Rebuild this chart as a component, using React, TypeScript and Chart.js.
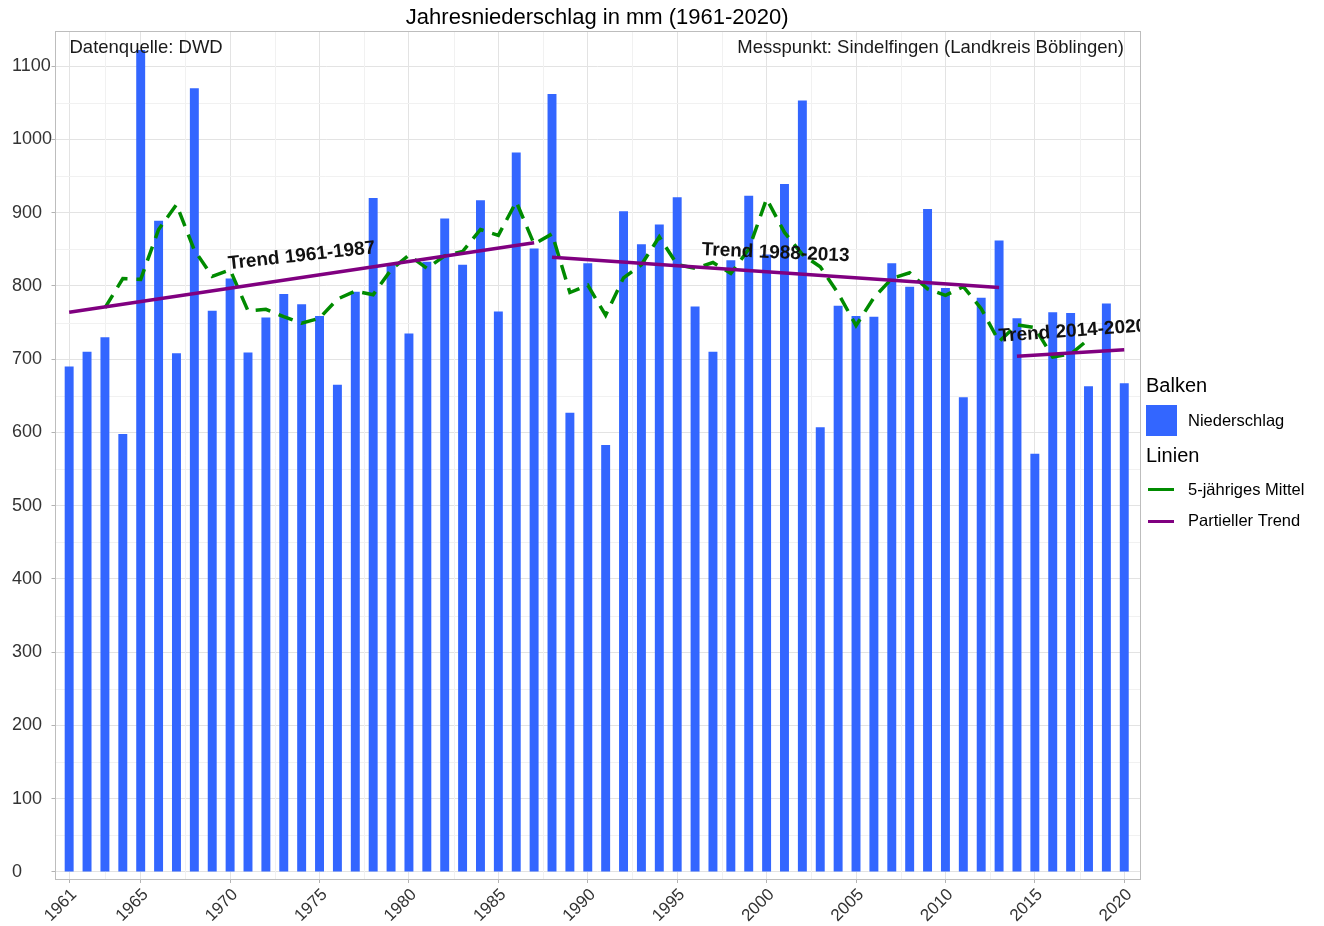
import React, { useEffect, useRef } from "react";
import { Chart, registerables } from "chart.js";

Chart.register(...registerables);

// ---------- data ----------
const years = [
  1961, 1962, 1963, 1964, 1965, 1966, 1967, 1968, 1969, 1970,
  1971, 1972, 1973, 1974, 1975, 1976, 1977, 1978, 1979, 1980,
  1981, 1982, 1983, 1984, 1985, 1986, 1987, 1988, 1989, 1990,
  1991, 1992, 1993, 1994, 1995, 1996, 1997, 1998, 1999, 2000,
  2001, 2002, 2003, 2004, 2005, 2006, 2007, 2008, 2009, 2010,
  2011, 2012, 2013, 2014, 2015, 2016, 2017, 2018, 2019, 2020,
];

const precipitation = [
  690, 710, 730, 598, 1122, 889, 708, 1070, 766, 810,
  709, 757, 789, 775, 759, 665, 792, 920, 829, 735,
  833, 892, 829, 917, 765, 982, 851, 1062, 627, 831,
  583, 902, 857, 884, 921, 772, 710, 835, 923, 843,
  939, 1053, 607, 773, 759, 758, 831, 799, 905, 797,
  648, 784, 862, 756, 571, 764, 763, 663, 776, 667,
];

const meanYears = [
  1963, 1964, 1965, 1966, 1967, 1968, 1969, 1970, 1971, 1972,
  1973, 1974, 1975, 1976, 1977, 1978, 1979, 1980, 1981, 1982,
  1983, 1984, 1985, 1986, 1987, 1988, 1989, 1990, 1991, 1992,
  1993, 1994, 1995, 1996, 1997, 1998, 1999, 2000, 2001, 2002,
  2003, 2004, 2005, 2006, 2007, 2008, 2009, 2010, 2011, 2012,
  2013, 2014, 2015, 2016, 2017, 2018,
];

const fiveYearMean = [
  770, 810, 809, 877, 911, 849, 813, 822, 766, 768,
  758, 749, 756, 782, 793, 788, 822, 842, 824, 841,
  847, 877, 869, 915, 857, 871, 791, 801, 760, 811,
  829, 867, 829, 824, 832, 817, 850, 919, 873, 843,
  826, 790, 746, 784, 810, 818, 796, 787, 799, 769,
  724, 747, 743, 703, 707, 727,
];

const trendStartYears = [1961, 1988, 2014];
const trendEndYears = [1987, 2013, 2020];
const trendStartValues = [764, 839, 704];
const trendEndValues = [859, 798, 713];
const trendLabels = ["Trend 1961-1987", "Trend 1988-2013", "Trend 2014-2020"];
const trendLabelYears = [1974.0, 2000.5, 2017.1];
const trendLabelValues = [841, 845, 738];
const trendLabelAngles = [-6.3, 2.4, -4.0];

const xTickYears = [1961, 1965, 1970, 1975, 1980, 1985, 1990, 1995, 2000, 2005, 2010, 2015, 2020];
const yTickValues = [0, 100, 200, 300, 400, 500, 600, 700, 800, 900, 1000, 1100];

const titleText = "Jahresniederschlag in mm (1961-2020)";
const sourceText = "Datenquelle: DWD";
const stationText = "Messpunkt: Sindelfingen (Landkreis Böblingen)";
const legendBarTitle = "Balken";
const legendBarLabel = "Niederschlag";
const legendLineTitle = "Linien";
const legendMeanLabel = "5-jähriges Mittel";
const legendTrendLabel = "Partieller Trend";

// ---------- styles ----------
const FONT = "'Liberation Sans', Arial, Helvetica, sans-serif";
const BAR_COLOR = "#3366FF";
const MEAN_COLOR = "#008B00";
const TREND_COLOR = "#800080";
const GRID_MAJOR = "#e3e3e3";
const GRID_MINOR = "#f1f1f1";
const BORDER = "#bdbdbd";
const TICK_TEXT = "#333333";

const decorPlugin = {
  id: "decor",
  beforeDatasetsDraw(chart: any) {
    const { ctx, chartArea: a, scales } = chart;
    ctx.save();
    ctx.beginPath();
    ctx.rect(a.left, a.top, a.right - a.left, a.bottom - a.top);
    ctx.clip();
    ctx.strokeStyle = GRID_MINOR;
    ctx.lineWidth = 1;
    for (let i = 0; i < xTickYears.length - 1; i++) {
      const m = (xTickYears[i] + xTickYears[i + 1]) / 2;
      const px = Math.round(scales.x.getPixelForValue(m)) + 0.5;
      ctx.beginPath();
      ctx.moveTo(px, a.top);
      ctx.lineTo(px, a.bottom);
      ctx.stroke();
    }
    for (let i = 0; i < yTickValues.length; i++) {
      const v = yTickValues[i] + 50;
      const py = Math.round(scales.y.getPixelForValue(v)) + 0.5;
      if (py < a.top) continue;
      ctx.beginPath();
      ctx.moveTo(a.left, py);
      ctx.lineTo(a.right, py);
      ctx.stroke();
    }
    ctx.restore();
  },
  afterDatasetsDraw(chart: any) {
    const { ctx, chartArea: a, scales } = chart;
    ctx.save();
    ctx.beginPath();
    ctx.rect(a.left, a.top, a.right - a.left, a.bottom - a.top);
    ctx.clip();
    ctx.font = `bold 19px ${FONT}`;
    ctx.fillStyle = "#111";
    ctx.textAlign = "center";
    ctx.textBaseline = "middle";
    for (let i = 0; i < trendLabels.length; i++) {
      const px = scales.x.getPixelForValue(trendLabelYears[i]);
      const py = scales.y.getPixelForValue(trendLabelValues[i]);
      ctx.save();
      ctx.translate(px, py);
      ctx.rotate((trendLabelAngles[i] * Math.PI) / 180);
      ctx.fillText(trendLabels[i], 0, 0);
      ctx.restore();
    }
    ctx.restore();
  },
  afterDraw(chart: any) {
    const { ctx, chartArea: a, scales } = chart;
    ctx.save();
    // panel border
    ctx.strokeStyle = BORDER;
    ctx.lineWidth = 1;
    ctx.strokeRect(Math.round(a.left) + 0.5, Math.round(a.top) + 0.5, Math.round(a.right - a.left) - 1, Math.round(a.bottom - a.top) - 1);

    // x tick labels (rotated 45°, anchored at their upper right corner)
    ctx.fillStyle = TICK_TEXT;
    ctx.font = `17px ${FONT}`;
    ctx.textAlign = "right";
    ctx.textBaseline = "top";
    for (const v of xTickYears) {
      const px = scales.x.getPixelForValue(v);
      ctx.save();
      ctx.translate(px - 1, a.bottom + 6);
      ctx.rotate(-Math.PI / 4);
      ctx.fillText(String(v), 0, 0);
      ctx.restore();
    }

    // title
    ctx.fillStyle = "#000";
    ctx.textBaseline = "middle";
    ctx.textAlign = "center";
    ctx.font = `22px ${FONT}`;
    ctx.fillText(titleText, (a.left + a.right) / 2, 18);

    // annotations
    ctx.font = `18.5px ${FONT}`;
    ctx.fillStyle = "#1a1a1a";
    ctx.textAlign = "left";
    ctx.fillText(sourceText, a.left + 15, 48);
    ctx.textAlign = "right";
    ctx.fillText(stationText, a.right - 16, 48);

    // legend
    const lx = a.right + 6;
    ctx.textAlign = "left";
    ctx.fillStyle = "#000";
    ctx.font = `20px ${FONT}`;
    ctx.fillText(legendBarTitle, lx, 386);
    ctx.fillStyle = BAR_COLOR;
    ctx.fillRect(lx, 405, 31, 31);
    ctx.fillStyle = "#000";
    ctx.font = `16.5px ${FONT}`;
    ctx.fillText(legendBarLabel, lx + 42, 421);
    ctx.font = `20px ${FONT}`;
    ctx.fillText(legendLineTitle, lx, 456);
    ctx.lineWidth = 3;
    ctx.strokeStyle = MEAN_COLOR;
    ctx.beginPath();
    ctx.moveTo(lx + 2, 489.5);
    ctx.lineTo(lx + 28, 489.5);
    ctx.stroke();
    ctx.strokeStyle = TREND_COLOR;
    ctx.beginPath();
    ctx.moveTo(lx + 2, 521.5);
    ctx.lineTo(lx + 28, 521.5);
    ctx.stroke();
    ctx.font = `16.5px ${FONT}`;
    ctx.fillText(legendMeanLabel, lx + 42, 490);
    ctx.fillText(legendTrendLabel, lx + 42, 521);
    ctx.restore();
  },
};

export default function App() {
  const ref = useRef<HTMLCanvasElement>(null);

  useEffect(() => {
    if (!ref.current) return;
    const trendSets = trendStartYears.map((sy, i) => ({
      type: "line" as const,
      label: trendLabels[i],
      data: [
        { x: sy, y: trendStartValues[i] },
        { x: trendEndYears[i], y: trendEndValues[i] },
      ],
      borderColor: TREND_COLOR,
      borderWidth: 3.5,
      pointRadius: 0,
      tension: 0,
      fill: false,
      order: 1,
    }));

    const chart = new Chart(ref.current, {
      type: "bar",
      data: {
        datasets: [
          {
            type: "bar",
            label: legendBarLabel,
            data: years.map((y, i) => ({ x: y, y: precipitation[i] })),
            backgroundColor: BAR_COLOR,
            barPercentage: 0.5,
            categoryPercentage: 1,
            order: 3,
          } as any,
          {
            type: "line",
            label: legendMeanLabel,
            data: meanYears.map((y, i) => ({ x: y, y: fiveYearMean[i] })),
            borderColor: MEAN_COLOR,
            borderWidth: 3.5,
            borderDash: [15, 9],
            pointRadius: 0,
            tension: 0,
            fill: false,
            order: 2,
          },
          ...trendSets,
        ],
      },
      options: {
        animation: false,
        responsive: false,
        devicePixelRatio: 1,
        layout: { padding: { left: 12, right: 184, top: 31, bottom: 0 } },
        plugins: {
          legend: { display: false },
          tooltip: { enabled: false },
          title: { display: false },
        },
        scales: {
          x: {
            type: "linear",
            min: 1960.18,
            max: 2020.88,
            offset: false,
            border: { display: false },
            grid: {
              offset: false,
              color: GRID_MAJOR,
              lineWidth: 1,
              drawTicks: true,
              tickLength: 3,
              tickColor: "#b3b3b3",
            },
            ticks: {
              display: false,
              autoSkip: false,
              callback: (v: any) => String(v),
            },
            afterBuildTicks: (s: any) => {
              s.ticks = xTickYears.map((v) => ({ value: v }));
            },
            afterFit: (s: any) => {
              s.height = 46;
              s.paddingLeft = 0;
              s.paddingRight = 0;
            },
          },
          y: {
            type: "linear",
            min: -11,
            max: 1148,
            border: { display: false },
            grid: {
              color: GRID_MAJOR,
              lineWidth: 1,
              drawTicks: true,
              tickLength: 3,
              tickColor: "#b3b3b3",
            },
            ticks: {
              crossAlign: "far",
              padding: 2,
              color: TICK_TEXT,
              font: { family: FONT, size: 18 },
              callback: (v: any) => String(v),
            },
            afterBuildTicks: (s: any) => {
              s.ticks = yTickValues.map((v) => ({ value: v }));
            },
            afterFit: (s: any) => {
              s.width = 42.5;
              s.paddingTop = 0;
              s.paddingBottom = 0;
            },
          },
        },
      } as any,
      plugins: [decorPlugin],
    });
    return () => chart.destroy();
  }, []);

  return (
    <div style={{ position: "fixed", left: 0, top: 0, width: 1324, height: 926, background: "#fff" }}>
      <canvas ref={ref} width={1324} height={926} style={{ display: "block", width: 1324, height: 926 }} />
    </div>
  );
}
